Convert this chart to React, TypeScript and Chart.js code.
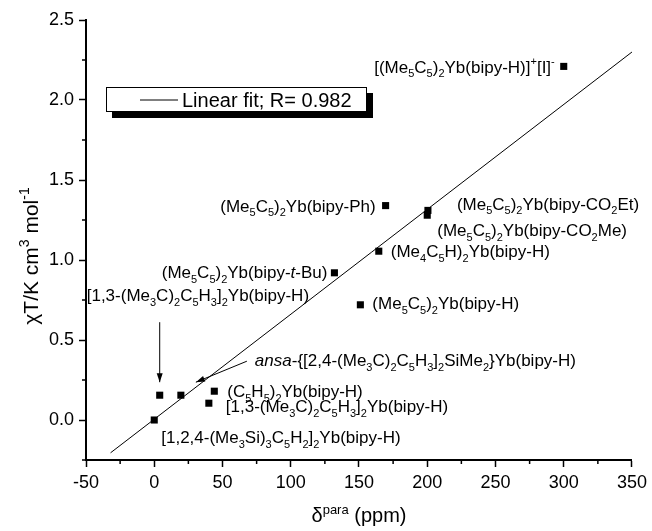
import React, { useEffect, useRef } from 'react';
import { Chart, registerables } from 'chart.js';

Chart.register(...registerables);

const FONT = '"Liberation Sans", Arial, Helvetica, sans-serif';

// ---- axes ----
const xTicks = [-50, 0, 50, 100, 150, 200, 250, 300, 350];
const yTicks = [0, 0.5, 1, 1.5, 2, 2.5];
const xMinor = [-25, 25, 75, 125, 175, 225, 275, 325];
const yMinor = [-0.25, 0.25, 0.75, 1.25, 1.75, 2.25];

// ---- data ----
const deltaPara = [0, 4, 19.5, 40, 44, 132, 151, 164.5, 169.5, 200, 200.5, 300];
const chiT = [0.0, 0.155, 0.155, 0.105, 0.18, 0.92, 0.72, 1.055, 1.34, 1.28, 1.31, 2.21];

const fitX = [-32, 350];
const fitY = [-0.205, 2.3];
const fitLabel = 'Linear fit; R= 0.982';

type Seg = { t: string; s?: 'sub' | 'sup'; i?: boolean };

const bisTBuCp: Seg[] = [
  { t: '[1,3-(Me' }, { t: '3', s: 'sub' }, { t: 'C)' }, { t: '2', s: 'sub' }, { t: 'C' }, { t: '5', s: 'sub' },
  { t: 'H' }, { t: '3', s: 'sub' }, { t: ']' }, { t: '2', s: 'sub' }, { t: 'Yb(bipy-H)' },
];
const cpStar = (tail: Seg[]): Seg[] => [
  { t: '(Me' }, { t: '5', s: 'sub' }, { t: 'C' }, { t: '5', s: 'sub' }, { t: ')' }, { t: '2', s: 'sub' }, ...tail,
];

const compoundNames: Seg[][] = [
  [{ t: '[1,2,4-(Me' }, { t: '3', s: 'sub' }, { t: 'Si)' }, { t: '3', s: 'sub' }, { t: 'C' }, { t: '5', s: 'sub' },
   { t: 'H' }, { t: '2', s: 'sub' }, { t: ']' }, { t: '2', s: 'sub' }, { t: 'Yb(bipy-H)' }],
  bisTBuCp,
  [{ t: 'ansa', i: true }, { t: '-{[2,4-(Me' }, { t: '3', s: 'sub' }, { t: 'C)' }, { t: '2', s: 'sub' }, { t: 'C' },
   { t: '5', s: 'sub' }, { t: 'H' }, { t: '3', s: 'sub' }, { t: ']' }, { t: '2', s: 'sub' }, { t: 'SiMe' },
   { t: '2', s: 'sub' }, { t: '}Yb(bipy-H)' }],
  bisTBuCp,
  [{ t: '(C' }, { t: '5', s: 'sub' }, { t: 'H' }, { t: '5', s: 'sub' }, { t: ')' }, { t: '2', s: 'sub' }, { t: 'Yb(bipy-H)' }],
  cpStar([{ t: 'Yb(bipy-' }, { t: 't', i: true }, { t: '-Bu)' }]),
  cpStar([{ t: 'Yb(bipy-H)' }]),
  [{ t: '(Me' }, { t: '4', s: 'sub' }, { t: 'C' }, { t: '5', s: 'sub' }, { t: 'H)' }, { t: '2', s: 'sub' }, { t: 'Yb(bipy-H)' }],
  cpStar([{ t: 'Yb(bipy-Ph)' }]),
  cpStar([{ t: 'Yb(bipy-CO' }, { t: '2', s: 'sub' }, { t: 'Me)' }]),
  cpStar([{ t: 'Yb(bipy-CO' }, { t: '2', s: 'sub' }, { t: 'Et)' }]),
  [{ t: '[(Me' }, { t: '5', s: 'sub' }, { t: 'C' }, { t: '5', s: 'sub' }, { t: ')' }, { t: '2', s: 'sub' },
   { t: 'Yb(bipy-H)]' }, { t: '+', s: 'sup' }, { t: '[I]' }, { t: '-', s: 'sup' }],
];

const xTitle: Seg[] = [{ t: 'δ' }, { t: 'para', s: 'sup' }, { t: ' (ppm)' }];
const yTitle: Seg[] = [{ t: 'χT/K cm' }, { t: '3', s: 'sup' }, { t: ' mol' }, { t: '-1', s: 'sup' }];

// ---- layout of annotations (pixel offsets from their point) ----
const labelLayout: { dx: number; dy: number; align: 'left' | 'right' }[] = [
  { dx: 7, dy: 17, align: 'left' },
  { dx: -73, dy: -100, align: 'left' },
  { dx: 74, dy: -35, align: 'left' },
  { dx: 17, dy: 3, align: 'left' },
  { dx: 13, dy: 0, align: 'left' },
  { dx: -7, dy: -1, align: 'right' },
  { dx: 12, dy: -2, align: 'left' },
  { dx: 12, dy: 0, align: 'left' },
  { dx: -10, dy: 0, align: 'right' },
  { dx: 10, dy: 15, align: 'left' },
  { dx: 29, dy: -7, align: 'left' },
  { dx: -9, dy: 0, align: 'right' },
];
const arrowLayout = [
  { point: 1, x1: 0, y1: -73, x2: 0, y2: -13 },
  { point: 2, x1: 66, y1: -34, x2: 15, y2: -13 },
];

function segFont(seg: Seg, size: number, subSize: number) {
  const sz = seg.s ? subSize : size;
  return `${seg.i ? 'italic ' : ''}${sz}px ${FONT}`;
}

function drawRich(ctx: CanvasRenderingContext2D, segs: Seg[], x: number, baseline: number,
  align: 'left' | 'right' | 'center', size: number) {
  const subSize = Math.round(size * 0.65);
  const widths = segs.map((s) => { ctx.font = segFont(s, size, subSize); return ctx.measureText(s.t).width; });
  const total = widths.reduce((a, b) => a + b, 0);
  let cx = align === 'right' ? x - total : align === 'center' ? x - total / 2 : x;
  ctx.textAlign = 'left';
  ctx.textBaseline = 'alphabetic';
  segs.forEach((s, k) => {
    ctx.font = segFont(s, size, subSize);
    const off = s.s === 'sub' ? size * 0.28 : s.s === 'sup' ? -size * 0.42 : 0;
    ctx.fillText(s.t, cx, baseline + off);
    cx += widths[k];
  });
}

function arrow(ctx: CanvasRenderingContext2D, x1: number, y1: number, x2: number, y2: number) {
  ctx.beginPath();
  ctx.moveTo(x1, y1);
  ctx.lineTo(x2, y2);
  ctx.lineWidth = 1;
  ctx.stroke();
  const a = Math.atan2(y2 - y1, x2 - x1);
  const L = 9, W = 3;
  ctx.beginPath();
  ctx.moveTo(x2, y2);
  ctx.lineTo(x2 - L * Math.cos(a) + W * Math.sin(a), y2 - L * Math.sin(a) - W * Math.cos(a));
  ctx.lineTo(x2 - L * Math.cos(a) - W * Math.sin(a), y2 - L * Math.sin(a) + W * Math.cos(a));
  ctx.closePath();
  ctx.fill();
}

const annotate = {
  id: 'annotate',
  afterDraw(chart: any) {
    const ctx: CanvasRenderingContext2D = chart.ctx;
    const xs = chart.scales.x;
    const ys = chart.scales.y;
    const area = chart.chartArea;
    ctx.save();
    ctx.fillStyle = '#000';
    ctx.strokeStyle = '#000';

    // minor ticks
    ctx.lineWidth = 1.5;
    ctx.beginPath();
    xMinor.forEach((v) => {
      const px = xs.getPixelForValue(v);
      ctx.moveTo(px, area.bottom);
      ctx.lineTo(px, area.bottom + 4);
    });
    yMinor.forEach((v) => {
      const py = ys.getPixelForValue(v);
      ctx.moveTo(area.left - 4, py);
      ctx.lineTo(area.left, py);
    });
    ctx.stroke();

    // point labels
    const size = 17;
    compoundNames.forEach((segs, k) => {
      const px = xs.getPixelForValue(deltaPara[k]);
      const py = ys.getPixelForValue(chiT[k]);
      const l = labelLayout[k];
      drawRich(ctx, segs, px + l.dx, py + l.dy + size * 0.36, l.align, size);
    });

    // arrows
    arrowLayout.forEach((a) => {
      const px = xs.getPixelForValue(deltaPara[a.point]);
      const py = ys.getPixelForValue(chiT[a.point]);
      arrow(ctx, px + a.x1, py + a.y1, px + a.x2, py + a.y2);
    });

    // legend box
    const lx = 106, ly = 87, lw = 261, lh = 25, sh = 6;
    ctx.fillStyle = '#000';
    ctx.fillRect(lx + sh, ly + sh, lw, lh);
    ctx.fillStyle = '#fff';
    ctx.fillRect(lx, ly, lw, lh);
    ctx.lineWidth = 1;
    ctx.strokeRect(lx + 0.5, ly + 0.5, lw - 1, lh - 1);
    ctx.fillStyle = '#000';
    ctx.beginPath();
    ctx.moveTo(140, ly + lh / 2 + 0.5);
    ctx.lineTo(178, ly + lh / 2 + 0.5);
    ctx.stroke();
    drawRich(ctx, [{ t: fitLabel }], 182, ly + lh / 2 + 20 * 0.36, 'left', 20);

    // axis titles
    const xMid = (area.left + area.right) / 2;
    drawRich(ctx, xTitle, xMid, 522, 'center', 20);
    ctx.save();
    ctx.translate(31, 256);
    ctx.rotate(-Math.PI / 2);
    drawRich(ctx, yTitle, 0, 7, 'center', 21);
    ctx.restore();

    ctx.restore();
  },
};

export default function App() {
  const ref = useRef<HTMLCanvasElement>(null);
  useEffect(() => {
    if (!ref.current) return;
    const chart = new Chart(ref.current, {
      type: 'scatter',
      data: {
        datasets: [
          {
            label: fitLabel,
            data: fitX.map((x, i) => ({ x, y: fitY[i] })),
            showLine: true,
            borderColor: '#000',
            borderWidth: 1,
            pointRadius: 0,
            fill: false,
          },
          {
            label: 'data',
            data: deltaPara.map((x, i) => ({ x, y: chiT[i] })),
            pointStyle: 'rect',
            pointRadius: 5,
            backgroundColor: '#000',
            borderWidth: 0,
            showLine: false,
          },
        ],
      },
      options: {
        responsive: false,
        animation: false,
        devicePixelRatio: 1,
        layout: { padding: { top: 20, right: 18, left: 0, bottom: 0 } },
        plugins: { legend: { display: false }, tooltip: { enabled: false } },
        scales: {
          x: {
            type: 'linear',
            min: -50,
            max: 350,
            afterBuildTicks: (s: any) => { s.ticks = xTicks.map((v) => ({ value: v })); },
            afterFit: (s: any) => { s.height = 71; },
            ticks: {
              color: '#000',
              font: { family: FONT, size: 18 },
              padding: 5,
              maxRotation: 0,
              autoSkip: false,
              callback: (v: any) => String(v),
            },
            grid: { drawOnChartArea: false, drawTicks: true, tickLength: 7, tickColor: '#000', tickWidth: 1.5 },
            border: { color: '#000', width: 2 },
          },
          y: {
            type: 'linear',
            min: -0.25,
            max: 2.5,
            afterBuildTicks: (s: any) => { s.ticks = yTicks.map((v) => ({ value: v })); },
            afterFit: (s: any) => { s.width = 86; },
            ticks: {
              color: '#000',
              font: { family: FONT, size: 18 },
              padding: 5,
              autoSkip: false,
              callback: (v: any) => Number(v).toFixed(1),
            },
            grid: { drawOnChartArea: false, drawTicks: true, tickLength: 7, tickColor: '#000', tickWidth: 1.5 },
            border: { color: '#000', width: 2 },
          },
        },
      },
      plugins: [annotate],
    });
    return () => chart.destroy();
  }, []);
  return (
    <div style={{ position: 'absolute', left: 0, top: 0, width: 652, height: 531, background: '#fff' }}>
      <canvas ref={ref} width={652} height={531} style={{ display: 'block' }} />
    </div>
  );
}
